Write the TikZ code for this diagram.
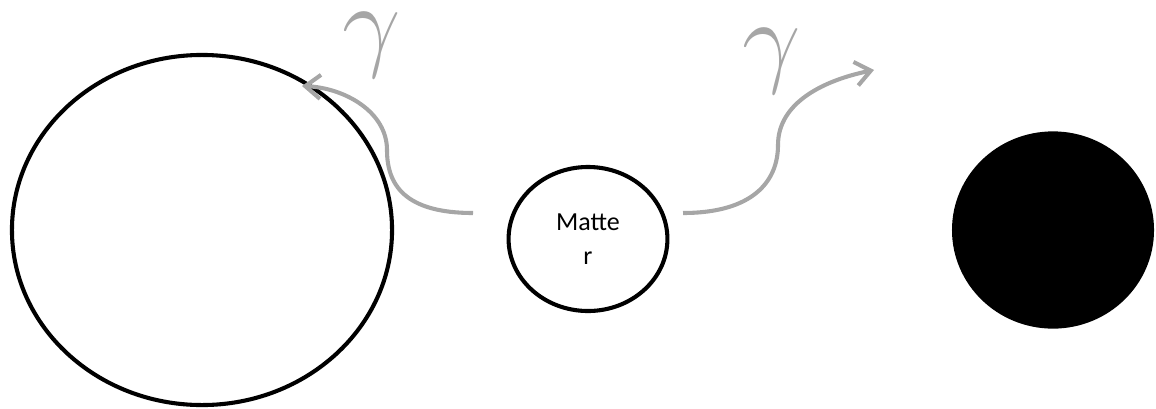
\RequirePackage{fix-cm}
\documentclass[tikz,border=0pt]{standalone}
\usepackage{fontspec}
\setmainfont{Carlito}
\usepackage{xcolor}
\usepackage{tikz}
\usetikzlibrary{arrows.meta,positioning,shapes.geometric}
\definecolor{photongray}{RGB}{166,166,166}

\begin{document}
\begin{tikzpicture}[
    x=0.025cm, y=-0.025cm,
    body/.style={
        ellipse,
        draw=black,
        line width=2.9pt,
        inner sep=0pt
    },
    hole/.style={
        ellipse,
        fill=black,
        inner sep=0pt
    },
    photon/.style={
        draw=photongray,
        line width=2.9pt,
        -{Straight Barb[length=0.38cm,width=0.6cm]}
    },
    gammalabel/.style={
        text=photongray,
        inner sep=0pt,
        font=\fontsize{74}{74}\selectfont
    }
]
\useasboundingbox (0,0) rectangle (1156,408);

% Bodies
\node[body, minimum width=9.5cm, minimum height=8.75cm] (star) at (202,230) {};
\node[body, minimum width=3.97cm, minimum height=3.6cm, align=center,
      font=\fontsize{18.5}{24}\selectfont] (matter) at (588,239) {Matte\\r};
\node[hole, minimum width=5.05cm, minimum height=4.93cm] (blackhole) at (1053,230) {};

% Photon ends
\coordinate (emitLeft) at (473,213);
\coordinate (absorbed) at (302,86);
\coordinate (emitRight) at (683,213);
\coordinate (escaped) at (874,70);

% Photons
\draw[photon] (emitLeft) .. controls (405,213) and (387,185) .. (387,150)
    .. controls (387,112) and (345,88) .. (absorbed);
\draw[photon] (emitRight) .. controls (752,213) and (778,182) .. (778,145)
    .. controls (778,102) and (825,80) .. (escaped);

% Labels
\node[gammalabel] (gammaLeft) at (372,45) {$\gamma$};
\node[gammalabel] (gammaRight) at (772,61) {$\gamma$};

\end{tikzpicture}
\end{document}
